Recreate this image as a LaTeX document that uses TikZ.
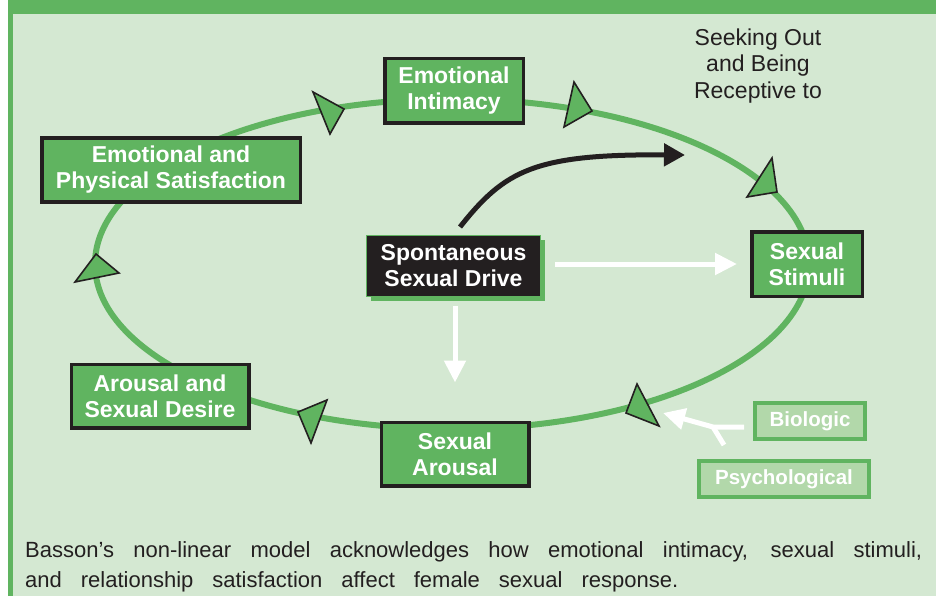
\documentclass[tikz,border=0pt]{standalone}
\usepackage{fontspec}
\setmainfont{Liberation Sans}
\usetikzlibrary{arrows.meta,shadows}
\definecolor{bgg}{RGB}{212,232,210}
\definecolor{gr}{RGB}{96,180,96}
\definecolor{lgr}{RGB}{178,216,170}
\definecolor{dk}{RGB}{35,31,32}
\begin{document}
\begin{tikzpicture}[x=1pt,y=-1pt,
  stage/.style={draw=dk, line width=3.5pt, fill=gr, text=white,
    font=\bfseries\fontsize{23}{26}\selectfont, align=center, inner sep=0pt},
  drivebox/.style={draw=gr, line width=1pt, fill=dk, text=white,
    font=\bfseries\fontsize{23}{26}\selectfont, align=center, inner sep=0pt,
    general shadow={fill=gr, shadow xshift=4pt, shadow yshift=-4pt}},
  factor/.style={draw=gr, line width=4pt, fill=lgr, text=white,
    font=\bfseries\fontsize{20.5}{24}\selectfont, inner sep=0pt},
  tri/.style={draw=dk, fill=gr, line width=1.6pt, line join=miter},
  cycleline/.style={draw=gr, line width=6pt},
  whitearrow/.style={draw=white, line width=5pt,
    -{Triangle[length=22pt,width=21pt]}},
  blackarrow/.style={draw=dk, line width=5pt,
    -{Triangle[length=21pt,width=22pt]}},
  note/.style={text=dk, font=\fontsize{23}{26.5}\selectfont, align=center, inner sep=0pt},
  captext/.style={text=dk, font=\fontsize{22}{26}\selectfont, inner sep=0pt, anchor=base west}
]
\useasboundingbox (0,0) rectangle (936,596);
% frame
\fill[bgg] (8,0) rectangle (936,596);
\fill[gr] (8,0) rectangle (936,14.5);
\fill[gr] (8,0) rectangle (12.7,596);

% cycle
\draw[cycleline] (452,264) ellipse [x radius=357, y radius=165];

% direction triangles
\draw[tri] (313,92) -- (344,109) -- (330,134) -- cycle;
\draw[tri] (574,82) -- (592,111) -- (564,127) -- cycle;
\draw[tri] (772,158) -- (777,192) -- (747,197) -- cycle;
\draw[tri] (637,384) -- (659,426) -- (626,413) -- cycle;
\draw[tri] (298,412) -- (327,400) -- (311,443) -- cycle;
\draw[tri] (75,282) -- (96,254) -- (119,273) -- cycle;

% stage nodes
\node[stage, minimum width=138.5pt, minimum height=64.5pt] (intim) at (454,91) {Emotional\\Intimacy};
\node[stage, minimum width=258.5pt, minimum height=63.5pt] (satis) at (171,170) {Emotional and\\Physical Satisfaction};
\node[stage, minimum width=110.5pt, minimum height=64.5pt] (stim) at (807,264) {Sexual\\Stimuli};
\node[stage, minimum width=147.5pt, minimum height=63.5pt] (arous) at (455,454) {Sexual\\Arousal};
\node[stage, minimum width=177.5pt, minimum height=63.5pt] (desire) at (160,396) {Arousal and\\Sexual Desire};
\node[drivebox, minimum width=174pt, minimum height=61pt] (spont) at (453.5,266) {Spontaneous\\Sexual Drive};

% factors
\node[factor, minimum width=110pt, minimum height=36pt] (bio) at (810,421) {Biologic};
\node[factor, minimum width=170pt, minimum height=36pt] (psych) at (784,479) {Psychological};

% note
\node[note] (seek) at (758,66) {Seeking Out\\and Being\\Receptive to};

% arrows
\coordinate (drivestart) at (460,227);
\coordinate (seektip) at (685,155);
\draw[blackarrow] (drivestart) .. controls (505,170) and (535,154) .. (seektip);
\draw[whitearrow, shorten <=14pt, shorten >=13pt] (spont.east |- stim.west) -- (stim.west);
\draw[whitearrow, shorten <=9pt, shorten >=38pt] (spont.south -| arous.north) -- (arous.north);

\coordinate (bstem) at (744,427);
\coordinate (yjoin) at (713,427);
\coordinate (ytip) at (663,413);
\coordinate (pstem) at (724,445);
\draw[draw=white, line width=5pt] (pstem) -- (yjoin);
\draw[whitearrow] (bstem) -- (yjoin) -- (ytip);

% caption
\node[captext] (cap1) at (25,557) {\makebox[897pt][s]{Basson’s non-linear model acknowledges how emotional intimacy, sexual stimuli,}};
\node[captext] (cap2) at (25,587) {\makebox[653pt][s]{and relationship satisfaction affect female sexual response.}};
\end{tikzpicture}
\end{document}
